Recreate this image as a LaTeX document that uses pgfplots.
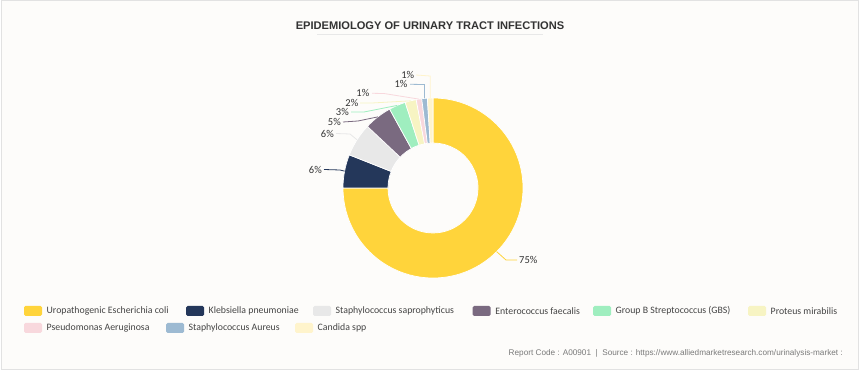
\documentclass[border=0pt]{standalone}
\usepackage{pgfplots}
\pgfplotsset{compat=1.18}
\usepackage{pgfplotstable}
\usepackage{fontspec}
\setmainfont{Carlito}
\newfontfamily\titlefont{Liberation Sans}
\newfontfamily\footfont{Liberation Sans}

\definecolor{bg}{HTML}{FDFCFA}
\definecolor{framec}{HTML}{E2E2E2}
\definecolor{titlec}{HTML}{333333}
\definecolor{labc}{HTML}{333333}
\definecolor{legc}{HTML}{444444}
\definecolor{footc}{HTML}{7A7A7A}
\definecolor{c0}{HTML}{FFD43B}
\definecolor{c1}{HTML}{24375A}
\definecolor{c2}{HTML}{E8E8E8}
\definecolor{c3}{HTML}{7A6A80}
\definecolor{c4}{HTML}{9FEEBF}
\definecolor{c5}{HTML}{F7F4C3}
\definecolor{c6}{HTML}{F8D8DD}
\definecolor{c7}{HTML}{9DBAD2}
\definecolor{c8}{HTML}{FFF4CC}

\pgfplotstableread[col sep=comma]{
name,value,tx,ty,side,sx,ex,ey,gx,gy
Uropathogenic Escherichia coli,75,519,260,west,517,506,260,24,311
Klebsiella pneumoniae,6,322,169.5,east,324,340,170,186,311
Staphylococcus saprophyticus,6,334,133.5,east,336,350,134,313,311
Enterococcus faecalis,5,341,122,east,343,358,121,472.7,311
Group B Streptococcus (GBS),3,349,112,east,351,364,112,593,311
Proteus mirabilis,2,358.5,103,east,360,372,103,748,311
Pseudomonas Aeruginosa,1,369.5,93.3,east,372,384,93.5,24,328
Staphylococcus Aureus,1,407.7,84.3,east,410,424.5,84.5,166,328
Candida spp,1,414.3,75,east,416,430.2,76,295,328
}\piedata

\begin{document}
\begin{tikzpicture}
\begin{axis}[width=860pt,height=371pt,scale only axis,
  xmin=0,xmax=860,ymin=0,ymax=371,y dir=reverse,
  hide axis,clip=false]
\fill[white] (axis cs:0,0) rectangle (axis cs:860,371);
\fill[bg] (axis cs:1,0.5) rectangle (axis cs:858.5,369.5);
\draw[framec, line width=1pt] (axis cs:1,0.5) rectangle (axis cs:858.5,369.5);
\node[font=\titlefont\bfseries\fontsize{11.1}{13}\selectfont, text=titlec] at (axis cs:430,26) {EPIDEMIOLOGY OF URINARY TRACT INFECTIONS};
\draw[black!9, line width=1pt] (axis cs:317,34.5) -- (axis cs:543,34.5);
\def\cum{0}
\pgfplotsforeachungrouped \i in {0,...,8}{%
  \pgfplotstablegetelem{\i}{value}\of\piedata \let\pv\pgfplotsretval
  \pgfplotstablegetelem{\i}{tx}\of\piedata \let\ptx\pgfplotsretval
  \pgfplotstablegetelem{\i}{ty}\of\piedata \let\pty\pgfplotsretval
  \pgfplotstablegetelem{\i}{side}\of\piedata \let\pside\pgfplotsretval
  \pgfplotstablegetelem{\i}{sx}\of\piedata \let\psx\pgfplotsretval
  \pgfplotstablegetelem{\i}{ex}\of\piedata \let\pex\pgfplotsretval
  \pgfplotstablegetelem{\i}{ey}\of\piedata \let\pey\pgfplotsretval
  \pgfplotstablegetelem{\i}{gx}\of\piedata \let\pgx\pgfplotsretval
  \pgfplotstablegetelem{\i}{gy}\of\piedata \let\pgy\pgfplotsretval
  \pgfplotstablegetelem{\i}{name}\of\piedata \let\pname\pgfplotsretval
  \pgfmathsetmacro\sa{90-3.6*\cum}%
  \pgfmathsetmacro\cum{\cum+\pv}%
  \pgfmathsetmacro\ea{90-3.6*\cum}%
  \pgfmathsetmacro\ma{(\sa+\ea)/2}%
  \pgfmathsetmacro\px{433+90*cos(\ma)}%
  \pgfmathsetmacro\py{188-90*sin(\ma)}%
  \pgfmathsetmacro\gxa{\pgx+18}%
  \pgfmathsetmacro\gya{\pgy-5}%
  \pgfmathsetmacro\gyb{\pgy+5}%
  \pgfmathsetmacro\gxt{\pgx+22.5}%
  \edef\temp{%
   \noexpand\fill[c\i, draw=white, line width=0.7pt] ([shift={(\sa:90pt)}]axis cs:433,188) arc[start angle=\sa, end angle=\ea, radius=90pt] -- ([shift={(\ea:45pt)}]axis cs:433,188) arc[start angle=\ea, end angle=\sa, radius=45pt] -- cycle;
   \noexpand\draw[c\i, line width=0.8pt] (axis cs:\px,\py) -- (axis cs:\pex,\pey) -- (axis cs:\psx,\pty);
   \noexpand\node[anchor=\pside, text=labc, font=\noexpand\fontsize{10.5}{12}\noexpand\selectfont, inner sep=0pt] at (axis cs:\ptx,\pty) {\pv\noexpand\%};
   \noexpand\fill[c\i, rounded corners=1.5pt] (axis cs:\pgx,\gya) rectangle (axis cs:\gxa,\gyb);
   \noexpand\node[anchor=west, text=legc, font=\noexpand\fontsize{9.8}{12}\noexpand\selectfont, inner sep=0pt] at (axis cs:\gxt,\pgy) {\pname};
  }%
  \temp
}
\node[anchor=east, font=\footfont\fontsize{8.2}{10}\selectfont, text=footc, inner sep=0pt] at (axis cs:843,353) {Report Code : A00901 \ | \ Source : https://www.alliedmarketresearch.com/urinalysis-market :};
\end{axis}
\end{tikzpicture}
\end{document}
